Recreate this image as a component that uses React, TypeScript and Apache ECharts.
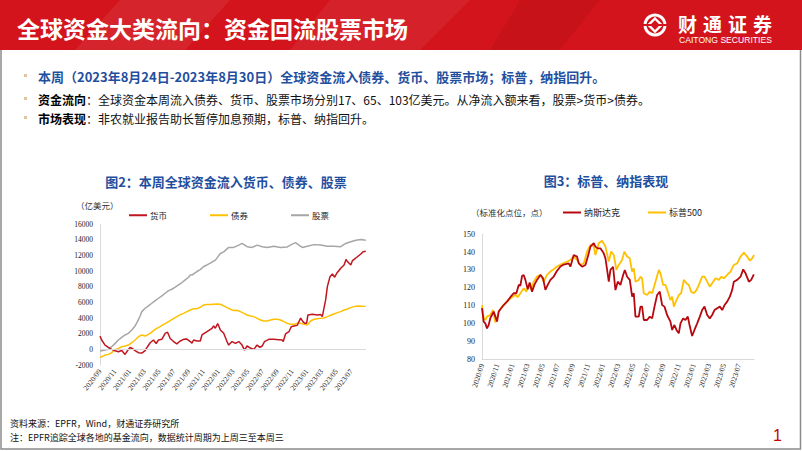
import React, { useEffect, useRef } from "react";
import * as echarts from "echarts";

// ---------------- data ----------------
const xTickLabels = [
  "2020/09", "2020/11", "2021/01", "2021/03", "2021/05", "2021/07", "2021/09", "2021/11",
  "2022/01", "2022/03", "2022/05", "2022/07", "2022/09", "2022/11", "2023/01", "2023/03",
  "2023/05", "2023/07",
];

// x = months since 2020/09, y = cumulative flow (亿美元)
const currency: [number, number][] = [
  [0, 1700], [0.23, 1200], [0.68, 550], [1.13, 250], [1.58, 0], [2.04, -170], [2.49, -300],
  [2.94, -150], [3.39, -650], [3.85, 0], [4.07, 250], [4.3, 150], [4.75, -150], [5.2, -430],
  [5.66, -470], [6.1, -150], [6.43, 340], [6.79, 850], [7.24, 1200], [7.6, 750], [7.92, 1200],
  [8.37, 1280], [8.82, 2050], [9.14, 2200], [9.5, 1400], [9.95, 1000], [10.4, 700], [10.86, 1070],
  [11.31, 1280], [11.76, 1320], [12.22, 1000], [12.44, 800], [12.67, 1200], [13.12, 1070],
  [13.57, 1070], [13.8, 1840], [14.48, 2260], [15.16, 2700], [15.38, 3000], [15.6, 2700],
  [15.93, 3300], [16.29, 2480], [16.74, 2050], [17.19, 1000], [17.42, 550], [17.87, 1000],
  [18.33, 770], [18.78, 1000], [19.23, 550], [19.55, -90], [19.91, 430], [20.36, 170], [20.81, 0],
  [21.27, 550], [21.63, 250], [21.95, 430], [22.26, 1000], [22.85, 1280], [23.53, 1280],
  [24.21, 1240], [24.66, 1200], [24.8, 1000], [25.11, 1970], [25.57, 2260], [25.88, 2900],
  [26.24, 3000], [26.7, 3080], [27.15, 4000], [27.47, 3550], [27.69, 3330], [27.96, 3330],
  [28.14, 4400], [28.73, 4490], [29.41, 4400], [29.86, 4450], [30.09, 4190], [30.3, 5200],
  [30.54, 6320], [30.77, 8030], [31.13, 9300], [31.45, 9650], [31.76, 9230], [32.04, 9740],
  [32.58, 10380], [33.03, 10800], [33.3, 11500], [33.52, 11200], [33.94, 10800], [34.16, 11350],
  [34.3, 11450], [34.84, 11850], [35.3, 12200], [35.6, 12500], [35.97, 12550],
];

const bonds: [number, number][] = [
  [0, -1030], [0.23, -940], [0.68, -730], [1.13, -640], [1.58, -430], [2.04, 0], [2.49, 130],
  [2.94, 340], [3.39, 430], [3.85, 550], [4.3, 850], [4.75, 1200], [5.2, 1620], [5.66, 1840],
  [6.1, 1700], [6.43, 1840], [6.79, 2050], [7.24, 2390], [7.69, 2690], [8.14, 2900], [8.6, 3200],
  [9.05, 3420], [9.5, 3680], [9.95, 3930], [10.41, 4190], [10.86, 4440], [11.31, 4610],
  [11.76, 4830], [12.22, 5040], [12.67, 5210], [13.12, 5210], [13.57, 5380], [14.03, 5680],
  [14.48, 5730], [14.93, 5730], [15.38, 5770], [15.84, 5810], [16.29, 5770], [16.74, 5560],
  [17.19, 5340], [17.65, 5130], [18.1, 4960], [18.55, 5000], [19.0, 4830], [19.46, 4610],
  [19.91, 4400], [20.36, 4270], [20.81, 4190], [21.27, 3970], [21.72, 3760], [22.17, 3630],
  [22.62, 3630], [23.08, 3760], [23.53, 3850], [23.98, 3850], [24.43, 3760], [24.89, 3550],
  [25.34, 3330], [25.79, 3200], [26.24, 3200], [26.7, 3330], [27.15, 3330], [27.6, 3200],
  [28.05, 3100], [28.51, 3630], [28.96, 3850], [29.41, 3930], [29.86, 3970], [30.32, 4020],
  [30.77, 4190], [31.22, 4360], [31.67, 4530], [32.13, 4700], [32.58, 4830], [33.03, 5040],
  [33.48, 5170], [33.94, 5340], [34.39, 5470], [34.84, 5560], [35.97, 5500],
];

const equity: [number, number][] = [
  [0, -170], [0.23, -170], [0.68, -90], [1.13, 0], [1.58, 340], [2.04, 770], [2.49, 1200],
  [2.94, 1540], [3.39, 1840], [3.85, 2050], [4.3, 2480], [4.75, 3000], [5.07, 3550], [5.43, 4270],
  [5.66, 4830], [6.1, 5260], [6.56, 5560], [7.01, 5900], [7.47, 6240], [7.92, 6540], [8.37, 6840],
  [8.82, 7180], [9.28, 7520], [9.73, 7690], [10.18, 7950], [10.63, 8250], [11.09, 8550],
  [11.54, 8890], [11.99, 9230], [12.22, 9530], [12.44, 9500], [12.67, 9660], [13.12, 9960],
  [13.57, 10200], [14.03, 10600], [14.48, 10800], [14.93, 11030], [15.38, 11300], [15.61, 11420],
  [15.84, 11700], [16.29, 12270], [16.74, 12480], [17.42, 13040], [18.1, 13040], [18.78, 13340],
  [19.23, 13550], [19.91, 13130], [20.59, 13040], [21.27, 13340], [21.95, 13130], [22.62, 13040],
  [23.53, 13200], [24.43, 13040], [25.34, 13100], [26.02, 13470], [26.47, 13650], [26.92, 13340],
  [27.38, 13040], [28.05, 13200], [28.96, 13400], [29.86, 13340], [30.77, 13200], [31.67, 13200],
  [32.58, 13130], [33.26, 13550], [33.94, 13760], [34.62, 13970], [35.29, 14050], [35.97, 13970],
];

// normalised index level
const nasdaq: [number, number][] = [
  [0, 108.5], [0.22, 101], [0.44, 100], [0.66, 97.2], [0.88, 99], [1.1, 102.9], [1.32, 104.7],
  [1.55, 106.6], [1.77, 103.8], [1.99, 101], [2.21, 106.6], [2.43, 107.9], [2.87, 110.3],
  [3.31, 112.2], [3.75, 114.7], [4.19, 116.9], [4.55, 116.9], [4.86, 121.6], [5.08, 121.2],
  [5.3, 126.6], [5.52, 127.2], [5.74, 124.4], [6.05, 119.1], [6.31, 122.9], [6.62, 117.8],
  [6.93, 121.6], [7.28, 124.4], [7.73, 127.2], [8.08, 125.3], [8.39, 118.8], [8.7, 121.6],
  [9.05, 124.4], [9.49, 126.3], [9.93, 129.5], [10.38, 131.9], [10.82, 133], [11.48, 133.7],
  [11.7, 131.8], [12.14, 138.4], [12.58, 137.5], [12.8, 133.7], [13.25, 131.8], [13.69, 132.8],
  [14.13, 139.3], [14.35, 143.1], [14.79, 145], [15.01, 143.1], [15.32, 142.1], [15.67, 142.1],
  [16.11, 139.3], [16.34, 136.5], [16.56, 130], [16.78, 123.4], [17.0, 130], [17.35, 131.8],
  [17.66, 118.7], [17.97, 123.4], [18.32, 121.6], [18.68, 127.2], [18.9, 130], [19.21, 126.2],
  [19.56, 124.4], [19.87, 115], [20.09, 116.9], [20.31, 103.8], [20.75, 103.8], [20.97, 109.4],
  [21.19, 109.4], [21.41, 101.9], [21.85, 101.9], [22.21, 103.8], [22.52, 102.8], [22.83, 109.4],
  [23.18, 115.9], [23.53, 117.8], [23.84, 110.3], [24.15, 109.4], [24.5, 104.7], [24.94, 101],
  [25.17, 96.3], [25.47, 99.1], [25.74, 96.3], [26.05, 94.4], [26.27, 100], [26.62, 102.8],
  [26.93, 101.9], [27.24, 103.8], [27.51, 98.2], [27.81, 92.9], [28.12, 96.3], [28.48, 100],
  [28.83, 103.8], [29.14, 107.5], [29.45, 109.4], [29.8, 104.7], [30.15, 102.8], [30.46, 104.7],
  [30.77, 107.5], [31.13, 108.5], [31.48, 109.4], [31.79, 107.5], [32.1, 110.3], [32.45, 112.2],
  [32.8, 115], [33.11, 118.7], [33.33, 123.4], [33.77, 124.4], [34.22, 126.2], [34.57, 130.3],
  [34.88, 128.1], [35.32, 123.4], [35.63, 124.4], [35.98, 127.5],
];

const sp500: [number, number][] = [
  [0, 110.3], [0.22, 102.9], [0.44, 101.9], [0.66, 103.8], [1.1, 104.7], [1.46, 107.5],
  [1.77, 100.5], [1.99, 102.9], [2.21, 106.6], [2.65, 109.4], [3.09, 111.3], [3.53, 113.2],
  [3.97, 114.7], [4.42, 116], [4.72, 114.7], [5.08, 116.9], [5.52, 119.7], [5.87, 117.8],
  [6.18, 121.6], [6.49, 119.1], [6.84, 123.4], [7.28, 126.3], [7.73, 127.2], [8.17, 123.4],
  [8.61, 127.2], [9.05, 129.1], [9.49, 130.4], [9.93, 131.9], [10.6, 133.4], [11.26, 134.7],
  [11.7, 135.6], [12.14, 137.5], [12.58, 135.6], [13.02, 132.8], [13.47, 133.7], [13.91, 140.3],
  [14.35, 144], [14.79, 143.4], [15.01, 138.4], [15.45, 145], [15.89, 146.4], [16.34, 143.1],
  [16.78, 134.7], [17.09, 140.3], [17.44, 138.4], [17.79, 130], [18.1, 132.8], [18.54, 135.6],
  [18.85, 140.3], [19.21, 137.5], [19.56, 136.5], [19.87, 129], [20.09, 130.9], [20.31, 123.4],
  [20.75, 124.4], [20.97, 126.2], [21.19, 125.3], [21.41, 116.9], [21.85, 115.9], [22.21, 117.8],
  [22.52, 116.9], [22.96, 123.4], [23.4, 130], [23.62, 128.1], [23.97, 121.6], [24.28, 121.6],
  [24.59, 117.8], [24.94, 113.1], [25.17, 115], [25.39, 109.4], [25.74, 113.1], [26.05, 115.9],
  [26.36, 116.9], [26.71, 124.4], [27.06, 122.5], [27.37, 121.6], [27.68, 117.8], [28.04, 116.9],
  [28.39, 118.7], [28.7, 121.6], [29.14, 126.2], [29.45, 126.2], [29.8, 123.4], [30.15, 120.6],
  [30.46, 122.5], [30.91, 125.3], [31.35, 124.4], [31.66, 126.2], [32.01, 125.3], [32.45, 127.2],
  [32.89, 129], [33.33, 132.8], [33.77, 133.7], [34.22, 137.5], [34.66, 139.7], [35.1, 137.5],
  [35.45, 135.2], [35.76, 136.5], [36.0, 138.4],
];

// ---------------- texts ----------------
const pageTitle = "全球资金大类流向：资金回流股票市场";
const bullet1 = "本周（2023年8月24日-2023年8月30日）全球资金流入债券、货币、股票市场；标普，纳指回升。";
const bullet2Head = "资金流向";
const bullet2Body = "：全球资金本周流入债券、货币、股票市场分别17、65、103亿美元。从净流入额来看，股票>货币>债券。";
const bullet3Head = "市场表现";
const bullet3Body = "：非农就业报告助长暂停加息预期，标普、纳指回升。";
const chart2Title = "图2：本周全球资金流入货币、债券、股票";
const chart3Title = "图3：标普、纳指表现";
const footer1 = "资料来源：EPFR，Wind，财通证券研究所";
const footer2 = "注：EPFR追踪全球各地的基金流向，数据统计周期为上周三至本周三";
const logoChars = ["财", "通", "证", "券"];

const CJK = '"Noto Sans CJK SC", "Microsoft YaHei", sans-serif';
const SERIF = '"Liberation Serif", "Times New Roman", serif';
const BLUE = "#1f4f9e";
const RED = "#c0161f";
const DARKRED = "#b8080f";
const GOLD = "#ffc000";
const GREY = "#a6a6a6";

function buildOption(): any {
  const xAxisCommon = (gridIndex: number, rotate: number) => ({
    type: "value",
    gridIndex,
    min: 0,
    max: 36,
    interval: 2,
    axisLine: { show: gridIndex === 1, onZero: false, lineStyle: { color: "#d9d9d9", width: 1 } },
    axisTick: { show: false },
    splitLine: { show: false },
    axisLabel: {
      formatter: (v: number) => xTickLabels[Math.round(v / 2)] ?? "",
      rotate,
      fontSize: 7.5,
      fontFamily: SERIF,
      color: "#222",
      margin: 5,
    },
  });

  const graphic: any[] = [
    // header band
    { type: "rect", shape: { x: 0, y: 0, width: 802, height: 50 }, style: { fill: "#d3141c" }, z: 10 },
    { type: "polygon", shape: { points: [[120, 0], [230, 0], [185, 50], [75, 50]] }, style: { fill: "rgba(255,255,255,0.07)" }, z: 10 },
    { type: "polygon", shape: { points: [[330, 0], [470, 0], [420, 50], [290, 50]] }, style: { fill: "rgba(255,255,255,0.06)" }, z: 10 },
    { type: "polygon", shape: { points: [[520, 0], [600, 0], [560, 50], [490, 50]] }, style: { fill: "rgba(0,0,0,0.05)" }, z: 10 },
    {
      type: "text", x: 17, y: 28, z: 11,
      style: { text: pageTitle, fill: "#fff", fontSize: 23, fontWeight: "bold", fontFamily: CJK, verticalAlign: "middle" },
    },
    // logo
    { type: "circle", shape: { cx: 655, cy: 25, r: 11.5 }, style: { fill: "#fff" }, z: 11 },
    { type: "circle", shape: { cx: 655, cy: 25, r: 8.5 }, style: { fill: "#d3141c" }, z: 11 },
    { type: "polygon", shape: { points: [[655, 18.5], [661.5, 25], [655, 31.5], [648.5, 25]] }, style: { fill: "none", stroke: "#fff", lineWidth: 2.4 }, z: 12 },
    { type: "rect", shape: { x: 642, y: 24, width: 26, height: 2 }, style: { fill: "#d3141c" }, z: 12 },
    ...logoChars.map((ch, i) => ({
      type: "text", x: 678 + i * 25, y: 14, z: 11,
      style: { text: ch, fill: "#fff", fontSize: 19, fontWeight: "bold", fontFamily: CJK, verticalAlign: "top", lineHeight: 19 },
    })),
    {
      type: "text", x: 679, y: 39.5, z: 11,
      style: { text: "CAITONG SECURITIES", fill: "#fff", fontSize: 8.6, fontFamily: '"Liberation Sans", Arial, sans-serif', verticalAlign: "middle", lineHeight: 9 },
    },
    // frame
    { type: "polyline", shape: { points: [[1, 50], [1, 449], [800.5, 449], [800.5, 50]] }, style: { stroke: "#8c8c8c", lineWidth: 1.5, fill: "none" }, z: 9 },
    // bullets
    ...[75.5, 98.5, 117.5].map((y) => ({
      type: "rect", shape: { x: 24, y: y - 1.5, width: 3, height: 3 }, style: { fill: "#e2c4a2" }, z: 11,
    })),
    {
      type: "text", x: 38, y: 76, z: 11,
      style: { text: bullet1, fill: BLUE, fontSize: 13, fontWeight: "bold", fontFamily: CJK, verticalAlign: "middle" },
    },
    {
      type: "text", x: 38, y: 99, z: 11,
      style: {
        text: `{b|${bullet2Head}}{n|${bullet2Body}}`,
        verticalAlign: "middle",
        rich: {
          b: { fontSize: 12, fontWeight: "bold", fill: "#000", fontFamily: CJK },
          n: { fontSize: 12, fill: "#111", fontFamily: CJK },
        },
      },
    },
    {
      type: "text", x: 38, y: 118, z: 11,
      style: {
        text: `{b|${bullet3Head}}{n|${bullet3Body}}`,
        verticalAlign: "middle",
        rich: {
          b: { fontSize: 12, fontWeight: "bold", fill: "#000", fontFamily: CJK },
          n: { fontSize: 12, fill: "#111", fontFamily: CJK },
        },
      },
    },
    // chart titles
    {
      type: "text", x: 226, y: 181, z: 11,
      style: { text: chart2Title, fill: BLUE, fontSize: 13, fontWeight: "bold", fontFamily: CJK, align: "center", verticalAlign: "middle" },
    },
    {
      type: "text", x: 606, y: 180, z: 11,
      style: { text: chart3Title, fill: BLUE, fontSize: 13, fontWeight: "bold", fontFamily: CJK, align: "center", verticalAlign: "middle" },
    },
    // units
    {
      type: "text", x: 76, y: 205, z: 11,
      style: { text: "（亿美元）", fill: "#333", fontSize: 8.5, fontFamily: CJK, verticalAlign: "middle" },
    },
    {
      type: "text", x: 471, y: 212, z: 11,
      style: { text: "（标准化点位，点）", fill: "#333", fontSize: 8.5, fontFamily: CJK, verticalAlign: "middle" },
    },
    // footer
    {
      type: "text", x: 10, y: 423, z: 11,
      style: { text: footer1, fill: "#111", fontSize: 9, fontFamily: CJK, verticalAlign: "middle" },
    },
    {
      type: "text", x: 10, y: 437, z: 11,
      style: { text: footer2, fill: "#111", fontSize: 9, fontFamily: CJK, verticalAlign: "middle" },
    },
    {
      type: "text", x: 773, y: 435, z: 11,
      style: { text: "1", fill: "#c00000", fontSize: 16, fontFamily: '"Liberation Sans", Arial, sans-serif', verticalAlign: "middle" },
    },
  ];

  const lineSeries = (name: string, data: [number, number][], color: string, idx: number, width: number) => ({
    name,
    type: "line",
    xAxisIndex: idx,
    yAxisIndex: idx,
    data,
    showSymbol: false,
    symbol: "none",
    lineStyle: { color, width },
    itemStyle: { color },
    z: 3,
  });

  return {
    animation: false,
    backgroundColor: "#fff",
    graphic,
    legend: [
      {
        data: ["货币", "债券", "股票"],
        left: 129, top: 211,
        icon: "rect", itemWidth: 18, itemHeight: 2, itemGap: 43, padding: 0,
        textStyle: { fontSize: 8.5, fontFamily: CJK, color: "#222", padding: [0, 0, 0, -2] },
      },
      {
        data: ["纳斯达克", "标普500"],
        left: 563, top: 208,
        icon: "rect", itemWidth: 18, itemHeight: 2, itemGap: 28, padding: 0,
        textStyle: { fontSize: 9, fontFamily: CJK, color: "#222", padding: [0, 0, 0, -2] },
      },
    ],
    grid: [
      { left: 100, top: 224.3, width: 266, height: 140.7 },
      { left: 482, top: 234.3, width: 272, height: 124.7 },
    ],
    xAxis: [xAxisCommon(0, 52), xAxisCommon(1, 72)],
    yAxis: [
      {
        type: "value", gridIndex: 0, min: -2000, max: 16000, interval: 2000,
        axisLine: { show: true, lineStyle: { color: "#d9d9d9" } },
        axisTick: { show: false }, splitLine: { show: false },
        axisLabel: { fontSize: 7.5, fontFamily: SERIF, color: "#222", margin: 7, formatter: (v: number) => String(v) },
      },
      {
        type: "value", gridIndex: 1, min: 80, max: 150, interval: 10,
        axisLine: { show: true, lineStyle: { color: "#d9d9d9" } },
        axisTick: { show: false }, splitLine: { show: false },
        axisLabel: { fontSize: 8, fontFamily: SERIF, color: "#222", margin: 7 },
      },
    ],
    series: [
      {
        ...lineSeries("股票", equity, GREY, 0, 1.5),
        markLine: {
          silent: true, symbol: "none", label: { show: false },
          lineStyle: { color: "#d9d9d9", type: "solid", width: 1 },
          data: [{ yAxis: 0 }],
        },
      },
      lineSeries("债券", bonds, GOLD, 0, 1.5),
      lineSeries("货币", currency, RED, 0, 1.5),
      lineSeries("标普500", sp500, GOLD, 1, 1.8),
      lineSeries("纳斯达克", nasdaq, DARKRED, 1, 1.8),
    ],
  };
}

export default function App() {
  const ref = useRef<HTMLDivElement>(null);
  useEffect(() => {
    document.body.style.margin = "0";
    const chart = echarts.init(ref.current!, undefined, { renderer: "svg" });
    chart.setOption(buildOption());
    return () => chart.dispose();
  }, []);
  return (
    <div
      ref={ref}
      style={{ position: "absolute", left: 0, top: 0, width: 802, height: 451, background: "#fff" }}
    />
  );
}
